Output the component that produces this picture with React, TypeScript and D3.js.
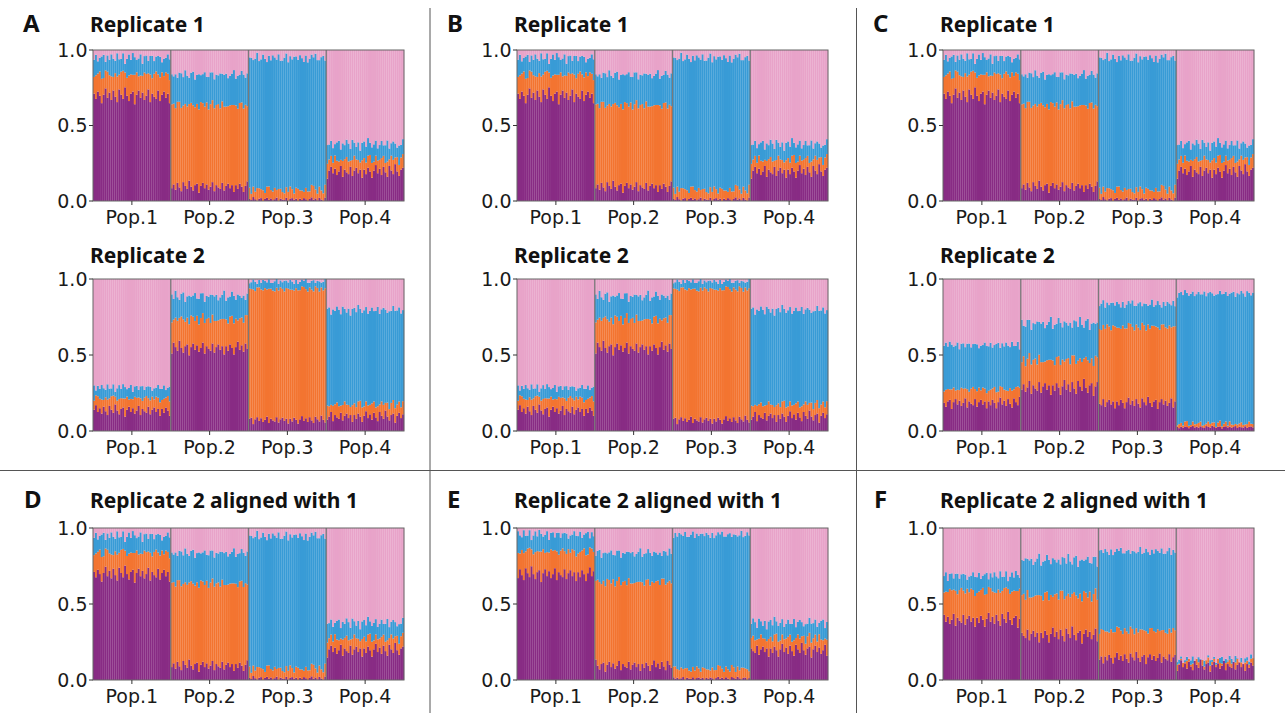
import React from "react";
import * as d3 from "d3";

// ---------- DATA ----------
const popNames = ["Pop.1", "Pop.2", "Pop.3", "Pop.4"];
const individualsPerPop = 40;
const clusterColors = ["#882b84", "#f37430", "#389bd6", "#e8a3c9"];

// cumulative tops of purple / orange / blue per population (pink fills to 1.0), and spread of the jagged edges
const rep1Purple = [0.69, 0.09, 0.01, 0.19];
const rep1Orange = [0.83, 0.63, 0.07, 0.27];
const rep1Blue = [0.94, 0.83, 0.94, 0.37];
const rep1Spread = [0.07, 0.05, 0.06, 0.06];

const rep2Purple = [0.13, 0.54, 0.07, 0.09];
const rep2Orange = [0.21, 0.73, 0.93, 0.17];
const rep2Blue = [0.28, 0.88, 0.98, 0.79];
const rep2Spread = [0.05, 0.06, 0.035, 0.05];

const cRep2Purple = [0.18, 0.28, 0.18, 0.025];
const cRep2Orange = [0.27, 0.46, 0.68, 0.045];
const cRep2Blue = [0.56, 0.7, 0.83, 0.9];
const cRep2Spread = [0.05, 0.07, 0.05, 0.035];

const eAlignPurple = [0.69, 0.09, 0.01, 0.19];
const eAlignOrange = [0.84, 0.64, 0.07, 0.27];
const eAlignBlue = [0.95, 0.83, 0.95, 0.37];
const eAlignSpread = [0.065, 0.05, 0.045, 0.06];

const fAlignPurple = [0.39, 0.29, 0.14, 0.09];
const fAlignOrange = [0.58, 0.55, 0.32, 0.115];
const fAlignBlue = [0.68, 0.78, 0.84, 0.13];
const fAlignSpread = [0.065, 0.07, 0.05, 0.05];

// individual deviations (estimated texture of the jagged bar tops)
const devA = [0.3, -0.2, 0.5, 0.1, -0.6, 0.2, 0.8, -0.1, 0.4, -0.3, 0.6, 0.0, -0.5, 0.7, 0.2, -0.2, 0.9, 0.1, -0.4, 0.3, 0.5, -0.7, 0.2, 0.6, -0.1, 0.4, -0.3, 0.1, 0.7, -0.5, 0.3, 0.0, -0.2, 0.6, -0.4, 0.2, 0.5, -0.1, 0.3, -0.6];
const devB = [-0.4, 0.2, 0.0, 0.6, -0.1, -0.5, 0.3, 0.7, -0.2, 0.1, -0.6, 0.4, 0.2, -0.3, 0.5, 0.9, -0.1, -0.4, 0.3, 0.0, -0.2, 0.6, 0.4, -0.5, 0.1, -0.3, 0.7, 0.2, -0.1, 0.5, -0.6, 0.3, 0.8, -0.2, 0.0, 0.4, -0.4, 0.6, 0.1, -0.3];
const devC = [0.1, 0.5, -0.3, -0.1, 0.4, 0.8, -0.5, 0.2, 0.0, 0.6, 0.3, -0.4, 0.7, 0.1, -0.2, 0.4, -0.6, 0.2, 0.5, -0.1, 0.9, 0.0, -0.3, 0.3, 0.6, -0.5, 0.1, 0.4, -0.2, 0.2, 0.7, -0.4, 0.0, 0.5, 0.3, -0.6, 0.2, -0.1, 0.6, 0.1];

const yTicks = [0, 0.5, 1.0];

type Dataset = { purple: number[]; orange: number[]; blue: number[]; spread: number[]; shift: number };
const rep1: Dataset = { purple: rep1Purple, orange: rep1Orange, blue: rep1Blue, spread: rep1Spread, shift: 0 };
const rep2: Dataset = { purple: rep2Purple, orange: rep2Orange, blue: rep2Blue, spread: rep2Spread, shift: 5 };
const cRep2: Dataset = { purple: cRep2Purple, orange: cRep2Orange, blue: cRep2Blue, spread: cRep2Spread, shift: 17 };
const eAlign: Dataset = { purple: eAlignPurple, orange: eAlignOrange, blue: eAlignBlue, spread: eAlignSpread, shift: 9 };
const fAlign: Dataset = { purple: fAlignPurple, orange: fAlignOrange, blue: fAlignBlue, spread: fAlignSpread, shift: 23 };

// ---------- LAYOUT ----------
const W = 1285;
const H = 713;
const colLeft = [93, 517, 943];
const plotW = 311;
const titleFont = "Noto Sans";
const tickFont = "DejaVu Sans";

type PanelSpec = {
  letter?: string;
  letterX?: number;
  title: string;
  col: number;
  top: number;
  bottom: number;
  titleY: number;
  data: Dataset;
};

const panels: PanelSpec[] = [
  { letter: "A", letterX: 23, title: "Replicate 1", col: 0, top: 50, bottom: 201, titleY: 32, data: rep1 },
  { title: "Replicate 2", col: 0, top: 279, bottom: 431, titleY: 263, data: rep2 },
  { letter: "B", letterX: 447, title: "Replicate 1", col: 1, top: 50, bottom: 201, titleY: 32, data: rep1 },
  { title: "Replicate 2", col: 1, top: 279, bottom: 431, titleY: 263, data: rep2 },
  { letter: "C", letterX: 873, title: "Replicate 1", col: 2, top: 50, bottom: 201, titleY: 32, data: rep1 },
  { title: "Replicate 2", col: 2, top: 279, bottom: 431, titleY: 263, data: cRep2 },
  { letter: "D", letterX: 24, title: "Replicate 2 aligned with 1", col: 0, top: 528, bottom: 680, titleY: 508, data: rep1 },
  { letter: "E", letterX: 447, title: "Replicate 2 aligned with 1", col: 1, top: 528, bottom: 680, titleY: 508, data: eAlign },
  { letter: "F", letterX: 874, title: "Replicate 2 aligned with 1", col: 2, top: 528, bottom: 680, titleY: 508, data: fAlign },
];

function buildRows(ds: Dataset) {
  const rows: { idx: number; pop: number; b: number[] }[] = [];
  popNames.forEach((_, p) => {
    for (let i = 0; i < individualsPerPop; i++) {
      const s = ds.spread[p];
      const j1 = devA[(i + 7 * p + ds.shift) % 40];
      const j2 = devB[(i + 11 * p + ds.shift) % 40];
      const j3 = devC[(i + 13 * p + ds.shift) % 40];
      const b1 = Math.max(0, Math.min(1, ds.purple[p] + s * j1 * (ds.purple[p] < 0.03 ? 0.3 : 1)));
      const b2 = Math.max(b1, Math.min(1, ds.orange[p] + s * (0.6 * j2 + 0.4 * j1)));
      const b3 = Math.max(b2, Math.min(1, ds.blue[p] + s * (0.7 * j3 + 0.3 * j2)));
      rows.push({ idx: p * individualsPerPop + i, pop: p, b: [0, b1, b2, b3, 1] });
    }
  });
  return rows;
}

function Panel({ spec }: { spec: PanelSpec }) {
  const left = colLeft[spec.col];
  const right = left + plotW;
  const n = popNames.length * individualsPerPop;
  const x = d3.scaleBand<number>().domain(d3.range(n)).range([left, right]).padding(0);
  const y = d3.scaleLinear().domain([0, 1]).range([spec.bottom, spec.top]);
  const popX = d3.scaleBand<string>().domain(popNames).range([left, right]);
  const rows = buildRows(spec.data);
  const bw = x.bandwidth();
  return (
    <g>
      {spec.letter && (
        <text x={spec.letterX} y={spec.titleY} fontFamily={titleFont} fontWeight={700} fontSize={24} fill="#111">
          {spec.letter}
        </text>
      )}
      <text x={left - 3} y={spec.titleY} fontFamily={titleFont} fontWeight={700} fontSize={21} fill="#111">
        {spec.title}
      </text>
      {rows.map((r) => (
        <g key={r.idx}>
          {clusterColors.map((c, k) => {
            const y0 = y(r.b[k]);
            const y1 = y(r.b[k + 1]);
            if (y0 - y1 <= 0) return null;
            return <rect key={k} x={x(r.idx)} y={y1} width={bw + 0.15} height={y0 - y1} fill={c} />;
          })}
          <line x1={(x(r.idx) as number) + bw} x2={(x(r.idx) as number) + bw} y1={spec.top} y2={spec.bottom} stroke="#fff" strokeOpacity={0.05} strokeWidth={0.4} />
        </g>
      ))}
      {popNames.slice(1).map((p) => (
        <line key={p} x1={popX(p)} x2={popX(p)} y1={spec.top} y2={spec.bottom} stroke="#7a7a7a" strokeWidth={1.3} />
      ))}
      <rect x={left} y={spec.top} width={plotW} height={spec.bottom - spec.top} fill="none" stroke="#666" strokeWidth={1} />
      {yTicks.map((t) => (
        <g key={t}>
          <line x1={left - 4} x2={left} y1={y(t)} y2={y(t)} stroke="#333" strokeWidth={1} />
          <text x={left - 5.5} y={y(t)} dy="0.36em" textAnchor="end" fontFamily={tickFont} fontSize={19} fill="#1a1a1a">
            {t.toFixed(1)}
          </text>
        </g>
      ))}
      {popNames.map((p) => {
        const cx = (popX(p) as number) + popX.bandwidth() / 2;
        return (
          <g key={p}>
            <line x1={cx} x2={cx} y1={spec.bottom} y2={spec.bottom + 4} stroke="#333" strokeWidth={1} />
            <text x={cx} y={spec.bottom + 22.5} textAnchor="middle" fontFamily={tickFont} fontSize={19} fill="#1a1a1a">
              {p}
            </text>
          </g>
        );
      })}
    </g>
  );
}

export default function App() {
  return (
    <svg width={W} height={H} style={{ position: "absolute", left: 0, top: 0, background: "#fff" }}>
      <rect x={0} y={0} width={W} height={H} fill="#fff" />
      <line x1={430} x2={430} y1={8} y2={H} stroke="#555" strokeWidth={1} />
      <line x1={856.5} x2={856.5} y1={8} y2={H} stroke="#555" strokeWidth={1} />
      <line x1={0} x2={W} y1={470.5} y2={470.5} stroke="#555" strokeWidth={1} />
      {panels.map((p, i) => (
        <Panel key={i} spec={p} />
      ))}
    </svg>
  );
}
